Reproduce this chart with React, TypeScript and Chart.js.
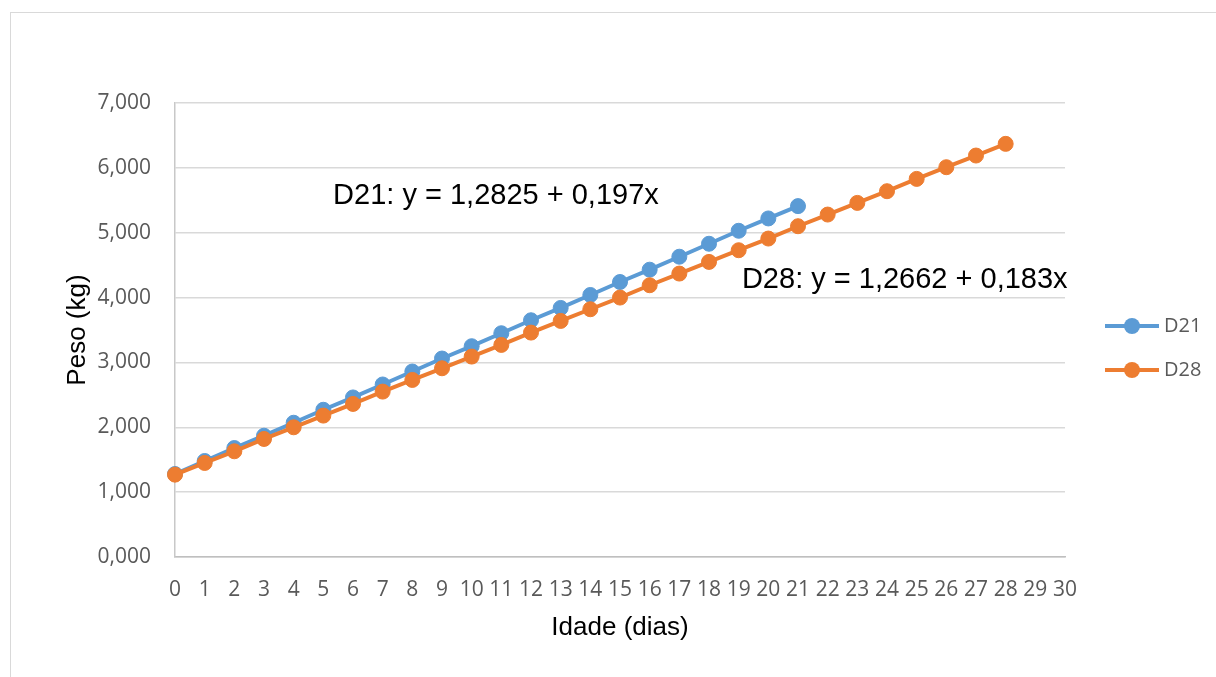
import React, { useEffect, useRef } from "react";
import { Chart, registerables } from "chart.js";

Chart.register(...registerables);

// ---- data ----
const seriesLabels = ["D21", "D28"];
const d21Days = [0, 1, 2, 3, 4, 5, 6, 7, 8, 9, 10, 11, 12, 13, 14, 15, 16, 17, 18, 19, 20, 21];
const d21Weights = [1.28, 1.48, 1.68, 1.87, 2.07, 2.27, 2.46, 2.66, 2.86, 3.06, 3.25, 3.45, 3.65, 3.84, 4.04, 4.24, 4.43, 4.63, 4.83, 5.03, 5.22, 5.41];
const d28Days = [0, 1, 2, 3, 4, 5, 6, 7, 8, 9, 10, 11, 12, 13, 14, 15, 16, 17, 18, 19, 20, 21, 22, 23, 24, 25, 26, 27, 28];
const d28Weights = [1.27, 1.45, 1.63, 1.82, 2.0, 2.18, 2.36, 2.55, 2.73, 2.91, 3.09, 3.27, 3.46, 3.64, 3.82, 4.0, 4.19, 4.37, 4.55, 4.73, 4.91, 5.1, 5.28, 5.46, 5.64, 5.83, 6.01, 6.19, 6.37];
const equationTexts = ["D21: y = 1,2825 + 0,197x", "D28: y = 1,2662 + 0,183x"];
const xTitle = "Idade (dias)";
const yTitle = "Peso (kg)";

const colors = ["#5B9BD5", "#ED7D31"];
const tickColor = "#595959";
const tickFont = { family: "'Open Sans', 'Noto Sans', sans-serif", size: 21 };
const titleFamily = "'Liberation Sans', Arial, sans-serif";

// where the equation labels sit, in data units (x = day, y = kg)
const equationAnchors = [
  { x: 5.33, y: 5.57 },
  { x: 19.11, y: 4.27 },
];

const equationPlugin = {
  id: "equationLabels",
  afterDatasetsDraw(chart: any) {
    const { ctx, scales } = chart;
    ctx.save();
    ctx.font = `29px ${titleFamily}`;
    ctx.fillStyle = "#000000";
    ctx.textAlign = "left";
    ctx.textBaseline = "middle";
    equationTexts.forEach((t, i) => {
      const a = equationAnchors[i];
      ctx.fillText(t, scales.x.getPixelForValue(a.x), scales.y.getPixelForValue(a.y));
    });
    ctx.restore();
  },
};

const sideLegendPlugin = {
  id: "sideLegend",
  afterDraw(chart: any) {
    const { ctx, chartArea } = chart;
    const left = chartArea.right + 40;
    const midY = (chartArea.top + chartArea.bottom) / 2;
    ctx.save();
    chart.data.datasets.forEach((ds: any, i: number) => {
      const yy = midY - 4 + i * 44;
      ctx.strokeStyle = ds.borderColor;
      ctx.lineWidth = 4;
      ctx.beginPath();
      ctx.moveTo(left, yy);
      ctx.lineTo(left + 54, yy);
      ctx.stroke();
      ctx.fillStyle = ds.borderColor;
      ctx.beginPath();
      ctx.arc(left + 27, yy, 8, 0, Math.PI * 2);
      ctx.fill();
      ctx.fillStyle = tickColor;
      ctx.font = `20px ${tickFont.family}`;
      ctx.textAlign = "left";
      ctx.textBaseline = "middle";
      ctx.fillText(ds.label, left + 59, yy);
    });
    ctx.restore();
  },
};

export default function App() {
  const canvasRef = useRef<HTMLCanvasElement | null>(null);

  useEffect(() => {
    if (!canvasRef.current) return;
    const mk = (days: number[], w: number[]) => days.map((d, i) => ({ x: d, y: w[i] }));
    const chart = new Chart(canvasRef.current, {
      type: "line",
      data: {
        datasets: [
          {
            label: seriesLabels[0],
            data: mk(d21Days, d21Weights),
            borderColor: colors[0],
            backgroundColor: colors[0],
            borderWidth: 4,
            pointRadius: 7.5,
            pointBorderWidth: 1,
            pointBackgroundColor: colors[0],
            pointBorderColor: colors[0],
            clip: false as any,
            order: 1,
          },
          {
            label: seriesLabels[1],
            data: mk(d28Days, d28Weights),
            borderColor: colors[1],
            backgroundColor: colors[1],
            borderWidth: 4,
            pointRadius: 7.5,
            pointBorderWidth: 1,
            pointBackgroundColor: colors[1],
            pointBorderColor: colors[1],
            clip: false as any,
            order: 0,
          },
        ],
      },
      options: {
        animation: false,
        responsive: false,
        events: [],
        layout: { padding: { left: 0, right: 151, top: 103, bottom: 0 } },
        plugins: {
          legend: { display: false },
          tooltip: { enabled: false },
        },
        scales: {
          x: {
            type: "linear",
            min: 0,
            max: 30,
            afterFit: (s: any) => {
              s.height = 120;
            },
            ticks: {
              stepSize: 1,
              autoSkip: false,
              maxRotation: 0,
              minRotation: 0,
              color: tickColor,
              font: tickFont,
              padding: 20,
            },
            grid: { display: false, drawTicks: false },
            border: { display: true, color: "#bfbfbf", width: 1.5 },
            title: {
              display: true,
              text: xTitle,
              color: "#000000",
              font: { family: titleFamily, size: 26 },
              padding: { top: 0, bottom: 34 },
            },
          },
          y: {
            type: "linear",
            min: 0,
            max: 7,
            afterFit: (s: any) => {
              s.width = 175;
            },
            ticks: {
              stepSize: 1,
              color: tickColor,
              font: tickFont,
              padding: 24,
              callback: (v: any) => Number(v).toFixed(3).replace(".", ","),
            },
            grid: { color: "#d9d9d9", lineWidth: 1.5, drawTicks: false },
            border: { display: true, color: "#c8c8c8", width: 1.5 },
            title: {
              display: true,
              text: yTitle,
              color: "#000000",
              font: { family: titleFamily, size: 26 },
              padding: { top: 62, bottom: 0 },
            },
          },
        },
      },
      plugins: [equationPlugin, sideLegendPlugin],
    });
    return () => chart.destroy();
  }, []);

  return (
    <div
      style={{
        position: "absolute",
        left: 0,
        top: 0,
        width: 1216,
        height: 677,
        overflow: "hidden",
        background: "#ffffff",
      }}
    >
      <div
        style={{
          position: "absolute",
          left: 10,
          top: 12,
          width: 1230,
          height: 700,
          border: "1px solid #d9d9d9",
          boxSizing: "border-box",
        }}
      />
      <canvas
        ref={canvasRef}
        width={1216}
        height={677}
        style={{ position: "absolute", left: 0, top: 0, width: 1216, height: 677 }}
      />
    </div>
  );
}
